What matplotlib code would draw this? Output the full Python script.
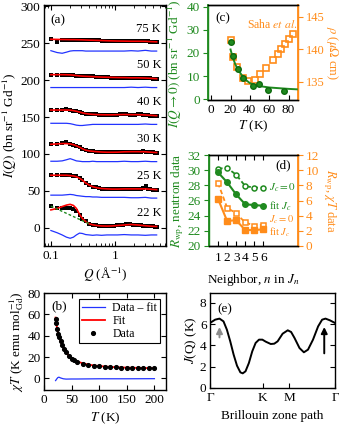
import matplotlib
matplotlib.use('Agg')
import matplotlib.pyplot as plt
import numpy as np
from matplotlib.ticker import NullFormatter, FixedLocator, FixedFormatter

plt.rcParams.update({
    'font.family': 'serif',
    'font.serif': ['Liberation Serif', 'DejaVu Serif'],
    'mathtext.fontset': 'stix',
    'font.size': 9.5,
    'axes.linewidth': 1.0,
    'xtick.direction': 'in',
    'ytick.direction': 'in',
    'xtick.major.size': 3.5,
    'ytick.major.size': 3.5,
    'xtick.minor.size': 2,
    'ytick.minor.size': 2,
    'xtick.major.pad': 3,
    'ytick.major.pad': 2.5,
})

GREEN = '#1f8a1f'
ORANGE = '#ff8c1a'

# ---- (a) I(Q) at several temperatures ----
temps_a = ['22 K', '25 K', '30 K', '40 K', '50 K', '75 K']
offsets_a = [0, 50, 100, 150, 200, 250]
Q_obs = [0.10, 0.125, 0.15, 0.175, 0.20, 0.225, 0.25, 0.28, 0.31, 0.35, 0.40, 0.45,
         0.50, 0.56, 0.63, 0.70, 0.78, 0.87, 0.97, 1.08, 1.2, 1.35, 1.5, 1.7, 1.9,
         2.1, 2.3, 2.55, 2.8, 3.05, 3.3, 3.6, 3.9, 4.2, 4.5]
I_22 = [29, 27, 26, 26, 26, 25, 23, 17, 12, 8.5, 5.5, 4, 3, 2.5, 2, 2, 2.2, 2, 2.5, 3,
        3, 3.5, 4.5, 5, 4, 3, 3.5, 3, 2.5, 2.5, 2, 1.5, 1.5, 1, 1]
I_25 = [22, 22, 21.5, 21, 21, 20.5, 19.5, 17, 14, 10.5, 7.5, 5.5, 4.5, 3.5, 3, 2.5, 2.5,
        2, 2, 2, 2.5, 2.5, 3, 2.5, 2, 2, 2.5, 3, 4, 7, 3, 2, 1.5, 1.5, 1]
I_30 = [13.5, 14, 14.5, 16, 14, 12.5, 11, 9, 7, 5, 4, 3.5, 3, 2.5, 2.5, 2, 2, 2, 2, 2,
        2.5, 2.5, 3, 3, 2.5, 2.5, 3, 3, 3.5, 3, 2.5, 2, 2, 1.5, 1.5]
I_40 = [9.5, 9.5, 9.5, 10.5, 9.5, 8.5, 7.5, 6.5, 5.5, 4.5, 4, 3.5, 3.5, 3, 3, 3, 3, 3,
        3, 3, 3.5, 3.5, 3.5, 3, 3, 3, 3.5, 3.5, 3, 3, 2.5, 2, 2, 1.5, 1.5]
I_50 = [7.5, 7.5, 7.5, 7.5, 7, 6.5, 6, 5.5, 5.5, 5, 5, 5, 4.5, 4.5, 4, 4, 4, 3.5, 3.5,
        3.5, 3.5, 3.5, 3.5, 3, 3, 3, 3.5, 3.5, 3, 3, 2.5, 2.5, 2, 2, 1.5]
I_75 = [6, 1.5, 4, 5, 5, 5, 5, 4.5, 4.5, 4.5, 4, 4, 4, 4, 3.5, 3.5, 3, 3, 3, 3, 3, 3,
        3, 2.5, 2.5, 2.5, 3, 3, 2.5, 3, 2.5, 2, 2, 1.5, 1.5]

Q_fit = [0.10, 0.125, 0.15, 0.175, 0.20, 0.225, 0.25, 0.28, 0.31, 0.35, 0.40, 0.45,
         0.52, 0.62, 0.75, 0.9, 1.1, 1.4, 1.8, 2.3, 3.0, 3.7, 4.5]
fit_22 = [24, 26, 28.5, 30.5, 31.5, 30, 26, 18, 12.5, 8, 5, 3.8, 2.8, 2.2, 2, 2.2, 2.8,
          3.5, 4.2, 3.5, 2.5, 1.8, 1.5]
fit_25 = [21, 21, 21, 21, 20.5, 20, 19, 17, 14.5, 10.5, 7.5, 5.5, 4, 3, 2.5, 2.2, 2.2,
          2.5, 2.5, 2.5, 2.5, 2, 1.5]
fit_30 = [13, 13.5, 14, 14, 13.5, 12.5, 11, 9, 7, 5, 4, 3.5, 3, 2.5, 2.2, 2.2, 2.3,
          2.8, 3, 3, 2.8, 2.2, 1.8]
fit_40 = [9.5, 9.5, 9.5, 9.5, 9.3, 8.7, 7.8, 6.7, 5.7, 4.7, 4, 3.6, 3.3, 3.1, 3, 3,
          3.2, 3.4, 3.2, 3.2, 2.8, 2.3, 1.8]
fit_50 = [7.5, 7.5, 7.5, 7.4, 7.2, 6.8, 6.3, 5.8, 5.5, 5.2, 5, 4.8, 4.5, 4.2, 4, 3.8,
          3.6, 3.5, 3.2, 3.2, 2.9, 2.5, 2]
fit_75 = [5.5, 5.3, 5.2, 5.1, 5, 5, 4.9, 4.8, 4.7, 4.5, 4.3, 4.2, 4, 3.8, 3.5, 3.3,
          3.1, 3, 2.8, 2.8, 2.7, 2.3, 2]
res_22 = [-4, -7, -10, -13, -14.5, -13, -10, -7.5, -8, -9.5, -10, -10.5, -10, -10.5,
          -10, -10, -10, -9.5, -10, -10, -10.5, -10, -10]
res_25 = [-6, -6, -6, -5.5, -5, -5.5, -6.5, -7, -7.5, -8, -8, -8.5, -8.5, -9, -9, -9,
          -9, -9, -9.5, -9.5, -9, -10, -10]
res_30 = [-10, -10, -9.5, -8, -6.5, -8, -9.5, -10, -10.5, -10.5, -10.5, -10, -10.5,
          -10.5, -10.5, -10.5, -10.5, -10, -10.5, -10.5, -10, -10.5, -10.5]
res_40 = [-8.5, -8.5, -8.5, -8.5, -9, -10, -11, -11.5, -11.5, -11, -10.5, -10, -10,
          -10, -10, -10, -10, -10, -10, -10, -9.5, -10, -10]
res_50 = [-10, -10, -10, -10, -10, -10, -10, -10, -10, -10, -10, -10, -10, -10, -10,
          -10, -10, -10, -9.5, -10, -9.5, -10, -10]
res_75 = [-10, -12.5, -13.5, -12, -10.5, -10, -10, -10, -10, -10.5, -10.5, -10.5,
          -10.5, -10.5, -10.5, -10.5, -10.5, -10.5, -10, -10.5, -9.5, -10.5, -10.5]
Q_guide = [0.10, 0.14, 0.20, 0.28, 0.40]
I_guide = [29, 23.2, 17, 11.1, 5]

# ---- (b) chi T ----
T_b = [21, 22, 24, 26, 28, 30, 33, 36, 40, 45, 50, 55, 60, 70, 80, 90, 100, 110, 120,
       130, 140, 150, 160, 170, 180, 190, 200]
chiT = [56, 52, 46, 42, 38.5, 35.5, 31.5, 28, 24.5, 21, 18.5, 17, 15.8, 14, 12.8, 12,
        11.4, 11, 10.7, 10.4, 10.2, 10, 9.9, 9.8, 9.7, 9.6, 9.5]
chiT_fit = [57, 52, 46.5, 41.5, 37.5, 35, 31, 28, 24.8, 21.3, 18.8, 17.2, 16, 14.2,
            13, 12.2, 11.6, 11.2, 10.8, 10.5, 10.3, 10.1, 10, 9.9, 9.8, 9.7, 9.6]
T_res = [21, 23, 25, 27, 30, 35, 40, 50, 60, 80, 100, 150, 200]
chiT_res = [-2, -0.5, 0.8, 1.2, 0.5, -0.3, -0.6, -0.5, -0.5, -0.4, -0.3, -0.3, -0.2]

# ---- (c) I(Q->0) and resistivity ----
T_c = [20, 23, 28, 33, 43.5, 49, 59, 75]
I0 = [24.6, 18.7, 12.9, 9.3, 5.9, 6.5, 4.0, 3.6]
T_cfit = [20, 22, 25, 28, 32, 36, 40, 45, 50, 60, 70, 80, 89]
I0_fit = [21.5, 18.5, 15, 12.6, 10.2, 8.3, 7.0, 6.2, 5.7, 5.1, 4.8, 4.5, 4.3]
T_saha = [20, 23, 26.2, 33, 38.3, 45.3, 50.5, 56.8, 63.7, 68.6, 72.4, 76.6, 80, 84.6]
rho = [141.4, 138.8, 137.2, 135.6, 135.15, 135.3, 136.2, 137.1, 138.3, 139.3, 140.0,
       140.8, 141.5, 142.3]

# ---- (d) Rwp vs neighbour ----
n_d = [1, 2, 3, 4, 5, 6]
rwp_n_jc0 = [30.2, 30.3, 29.4, 27.9, 27.7, 27.7]
rwp_n_fit = [29.7, 28.4, 26.8, 25.5, 25.4, 25.3]
rwp_x_jc0 = [8.3, 5.05, 4.3, 3.1, 2.7, 2.8]
rwp_x_fit = [6.2, 3.3, 3.4, 2.1, 2.1, 2.2]

# ---- (e) J(Q) along path ----
path_ticks = [0, 0.4226, 0.634, 1.0]
path_labels = ['Γ', 'K', 'M', 'Γ']
x_e = [0, 0.041, 0.076, 0.108, 0.135, 0.162, 0.189, 0.216, 0.243, 0.262, 0.284, 0.311,
       0.338, 0.365, 0.392, 0.419, 0.446, 0.486, 0.514, 0.541, 0.581, 0.622, 0.649,
       0.676, 0.716, 0.751, 0.784, 0.824, 0.865, 0.897, 0.924, 0.959, 1.0]
J_e = [6.12, 6.43, 6.53, 6.27, 5.49, 4.39, 3.14, 2.10, 1.47, 1.38, 1.57, 2.35, 3.45,
       4.24, 4.55, 4.55, 4.36, 4.14, 4.17, 4.39, 5.11, 5.43, 5.27, 4.71, 3.76, 3.36,
       3.61, 4.55, 5.80, 6.43, 6.53, 6.37, 6.12]

W, H = 339, 433
fig = plt.figure(figsize=(W / 100, H / 100), dpi=100)


def box(l, t, r, b):
    return [l / W, (H - b) / H, (r - l) / W, (b - t) / H]


# (a)
ax = fig.add_axes(box(44, 5, 166, 246))
obs = [I_22, I_25, I_30, I_40, I_50, I_75]
fits = [fit_22, fit_25, fit_30, fit_40, fit_50, fit_75]
ress = [res_22, res_25, res_30, res_40, res_50, res_75]
for lab, off, d, f, r in zip(temps_a, offsets_a, obs, fits, ress):
    ax.plot(Q_fit, np.array(r) + off, color='#2233ff', lw=0.9)
    ax.plot(Q_obs, np.array(d) + off, 's', color='k', ms=2.6, mew=0)
    ax.plot(Q_fit, np.array(f) + off, color='red', lw=1.2)
    ax.text(3.4, off + 20, lab, ha='center', va='center', fontsize=9)
ax.plot(Q_guide, I_guide, color=GREEN, lw=1.0, ls=(0, (2, 1.5)))
ax.set_xscale('log')
ax.set_xlim(0.078, 6.3)
ax.set_ylim(-25, 302)
ax.set_yticks(range(0, 301, 50))
ax.xaxis.set_major_locator(FixedLocator([0.1, 1]))
ax.xaxis.set_major_formatter(FixedFormatter(['0.1', '1']))
ax.xaxis.set_minor_formatter(NullFormatter())
ax.tick_params(which='both', top=True, right=True)
ax.set_xlabel(r'$Q$ (Å$^{-1}$)', labelpad=3)
ax.set_ylabel(r'$I(Q)$ (bn sr$^{-1}$ Gd$^{-1}$)', labelpad=1)
ax.text(0.05, 0.935, '(a)', transform=ax.transAxes, va='center')

# (b)
ax = fig.add_axes(box(44, 293, 166, 390))
ax.plot(T_res, chiT_res, color='#2233ff', lw=0.9, label='Data – fit')
ax.plot(T_b, chiT_fit, color='red', lw=1.3, label='Fit')
ax.plot(T_b, chiT, 'o', color='k', ms=2.7, label='Data')
ax.set_xlim(0, 221)
ax.set_ylim(-10.8, 80)
ax.set_xticks(range(0, 201, 50))
ax.set_yticks(range(0, 81, 20))
ax.tick_params(top=True, right=True)
ax.set_xlabel(r'$T$ (K)', labelpad=3)
ax.set_ylabel(r'$\chi T$ (K emu mol$_{\rm Gd}^{-1}$)', labelpad=1)
ax.text(0.06, 0.86, '(b)', transform=ax.transAxes, va='center')
leg = ax.legend(loc='upper right', fontsize=8.5, frameon=True, fancybox=False,
                edgecolor='k', framealpha=1, handlelength=2.0, borderpad=0.25,
                labelspacing=0.1, borderaxespad=0.5, handletextpad=0.6)
leg.get_frame().set_linewidth(0.8)

# (c)
axc = fig.add_axes(box(208, 5, 298, 100))
axc2 = axc.twinx()
axc.set_zorder(axc2.get_zorder() + 1)
axc.patch.set_visible(False)
axc2.plot(T_saha, rho, 's', mfc='none', mec=ORANGE, mew=1.2, ms=4)
axc.plot(T_cfit, I0_fit, color=GREEN, lw=1.4)
axc.plot(T_c, I0, 'o', color=GREEN, mec='#0f6a0f', ms=4)
axc.set_xlim(-3.3, 89.8)
axc.set_ylim(-0.3, 40.7)
axc2.set_ylim(132.2, 146.8)
axc.set_xticks(range(0, 81, 20))
axc.set_yticks(range(0, 41, 10))
axc2.set_yticks([135, 140, 145])
axc.tick_params(axis='y', colors=GREEN, direction='out')
axc2.tick_params(axis='y', colors=ORANGE, direction='out', labelsize=9, pad=2)
for a in (axc, axc2):
    a.spines['left'].set_color(GREEN)
    a.spines['right'].set_color(ORANGE)
axc.spines['left'].set_linewidth(1.3)
axc2.spines['right'].set_linewidth(1.3)
axc.set_xlabel(r'$T$ (K)', labelpad=2)
axc.set_ylabel(r'$I(Q\rightarrow 0)$ (bn sr$^{-1}$ Gd$^{-1}$)', color=GREEN)
axc.yaxis.set_label_coords(-0.27, 0.38)
axc2.set_ylabel(r'$\rho$ ($\mu\Omega$ cm)', color=ORANGE, rotation=270,
                va='bottom', fontsize=9)
axc2.yaxis.set_label_coords(1.29, 0.5)
axc.text(0.08, 0.86, '(c)', transform=axc.transAxes, va='center')
axc.text(0.99, 0.8, r'Saha $et$ $al.$', color=ORANGE, transform=axc.transAxes,
         ha='right', va='center', fontsize=8.5)

# (d)
axd = fig.add_axes(box(209, 155, 298, 246))
axd2 = axd.twinx()
axd.set_zorder(axd2.get_zorder() + 1)
axd.patch.set_visible(False)
axd2.plot(n_d, rwp_x_jc0, ls=(0, (2.5, 1.5)), color=ORANGE, lw=1.3, marker='s',
          mfc='white', mec=ORANGE, mew=1.1, ms=3.6)
axd2.plot(n_d, rwp_x_fit, '-s', color=ORANGE, lw=1.5, ms=4)
axd.plot(n_d, rwp_n_jc0, ls=(0, (2.5, 1.5)), color=GREEN, lw=1.3, marker='o',
         mfc='white', mec=GREEN, mew=1.1, ms=3.6)
axd.plot(n_d, rwp_n_fit, '-o', color=GREEN, lw=1.5, ms=4)
axd.set_xlim(0, 9.83)
axd.set_ylim(20, 32)
axd2.set_ylim(0, 12)
axd.set_xticks(n_d)
axd.set_yticks(range(20, 33, 2))
axd2.set_yticks(range(0, 13, 2))
axd.tick_params(axis='x', top=True, pad=4)
axd.tick_params(axis='y', colors=GREEN, direction='out')
axd2.tick_params(axis='y', colors=ORANGE, direction='out', pad=2)
for a in (axd, axd2):
    a.spines['left'].set_color(GREEN)
    a.spines['right'].set_color(ORANGE)
axd.spines['left'].set_linewidth(1.3)
axd2.spines['right'].set_linewidth(1.3)
axd.text(6.6, 27.7, r'$J_c=0$', color=GREEN, va='center', fontsize=8)
axd.text(6.6, 25.3, r'fit $J_c$', color=GREEN, va='center', fontsize=8)
axd2.text(6.6, 3.5, r'$J_c=0$', color=ORANGE, va='center', fontsize=7.5)
axd2.text(6.6, 1.85, r'fit $J_c$', color=ORANGE, va='center', fontsize=7.5)
axd.text(0.83, 0.89, '(d)', transform=axd.transAxes, va='center', ha='center')
axd.set_xlabel(r'Neighbor, $n$ in $J_n$', labelpad=6)
axd.set_ylabel(r'$R_{\rm wp}$, neutron data', color=GREEN, labelpad=1)
axd2.set_ylabel(r'$R_{\rm wp}$, $\chi T$ data', color=ORANGE, rotation=270,
                va='bottom', fontsize=9)
axd2.yaxis.set_label_coords(1.255, 0.5)

# (e)
axe = fig.add_axes(box(210, 293, 335, 388))
axe.plot(x_e, J_e, color='k', lw=1.4)
axe.annotate('', xy=(0.076, 6.0), xytext=(0.076, 4.5),
             arrowprops=dict(arrowstyle='-|>', color='0.55', lw=1.4, mutation_scale=9))
axe.annotate('', xy=(0.914, 6.0), xytext=(0.914, 3.0),
             arrowprops=dict(arrowstyle='-|>', color='k', lw=1.4, mutation_scale=9))
axe.set_xlim(0, 1)
axe.set_ylim(0, 8.94)
axe.set_xticks(path_ticks)
axe.set_xticklabels(path_labels)
axe.set_yticks(range(0, 9, 2))
axe.tick_params(right=True)
axe.set_xlabel('Brillouin zone path', labelpad=4)
axe.set_ylabel(r'$J$(Q) (K)', labelpad=1)
axe.text(0.06, 0.83, '(e)', transform=axe.transAxes, va='center')

fig.savefig('out.png', dpi=100)
